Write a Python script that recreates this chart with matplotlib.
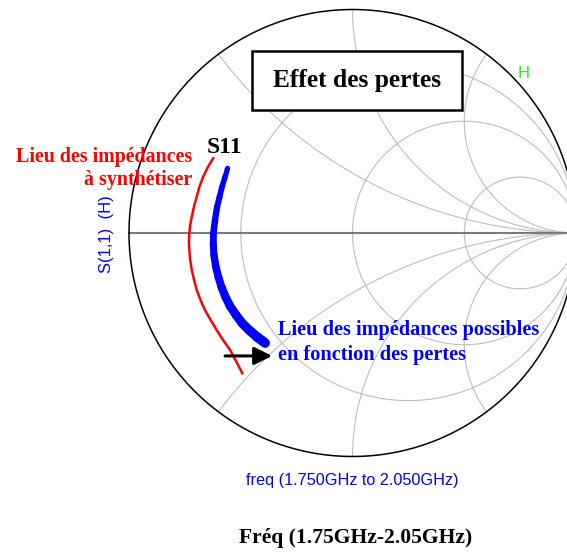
import numpy as np
import matplotlib
matplotlib.use("Agg")
import matplotlib.pyplot as plt
from matplotlib.patches import Rectangle
from matplotlib.collections import LineCollection

W, H = 567, 554
DPI = 100

# chart placement (pixels): centre of the Smith chart and its radius
CX, CY, R = 352.5, 233.0, 223.5

# Smith chart grid values
r_circles = [1/3, 1.0, 3.0]
x_arcs = [0.5, 1.0, 2.0, -0.5, -1.0, -2.0]

# target impedance locus (reflection coefficient, real / imag)
target_re = [-0.623, -0.647, -0.668, -0.685, -0.697, -0.709, -0.719, -0.726,
             -0.730, -0.732, -0.730, -0.726, -0.719, -0.709, -0.697, -0.680,
             -0.660, -0.635, -0.608, -0.579, -0.548, -0.521, -0.493]
target_im = [0.334, 0.295, 0.252, 0.206, 0.162, 0.119, 0.073, 0.036,
             -0.001, -0.040, -0.076, -0.121, -0.166, -0.210, -0.255, -0.300,
             -0.345, -0.389, -0.434, -0.479, -0.523, -0.573, -0.628]

# S(1,1) simulated over 1.75-2.05 GHz for the lossy case
s11_re = [-0.559, -0.570, -0.584, -0.595, -0.606, -0.615, -0.622, -0.623,
          -0.620, -0.612, -0.600, -0.586, -0.570, -0.548, -0.521, -0.494,
          -0.463, -0.427, -0.391]
s11_im = [0.289, 0.251, 0.206, 0.161, 0.116, 0.058, 0.000, -0.049,
          -0.098, -0.148, -0.197, -0.242, -0.282, -0.327, -0.367, -0.403,
          -0.434, -0.465, -0.492]

# arrow from the target locus toward the achievable locus
arrow_start = (-0.570, -0.550)
arrow_end = (-0.360, -0.550)

SERIF = "Liberation Serif"
SANS = "Liberation Sans"


def px(x, y):
    return x / W, 1 - y / H


def gamma(z):
    return (z - 1) / (z + 1)


fig = plt.figure(figsize=(W / DPI, H / DPI), dpi=DPI)
ax = fig.add_axes([0, 0, 1, 1])
ax.set_xlim((0 - CX) / R, (W - CX) / R)
ax.set_ylim((CY - H) / R, CY / R)
ax.axis("off")

grid_col = "#bdbdbd"

# constant resistance circles
xs = np.tan(np.linspace(-np.pi / 2 + 1e-4, np.pi / 2 - 1e-4, 800))
for r in r_circles:
    g = gamma(r + 1j * xs)
    ax.plot(g.real, g.imag, color=grid_col, lw=0.8, zorder=1)

# constant reactance arcs
rs = np.tan(np.linspace(0, np.pi / 2 - 1e-4, 800))
for x in x_arcs:
    g = gamma(rs + 1j * x)
    ax.plot(g.real, g.imag, color=grid_col, lw=0.8, zorder=1)

# real axis
ax.plot([-1, 1], [0, 0], color="#7a7a7a", lw=1.5, zorder=1)

# outer boundary |gamma| = 1
t = np.linspace(0, 2 * np.pi, 1000)
ax.plot(np.cos(t), np.sin(t), color="black", lw=1.1, zorder=2)

# target locus
ax.plot(target_re, target_im, color="red", lw=1.8, zorder=3)

# S11 band: the spread with losses widens toward the high end of the sweep
pts = np.column_stack([s11_re, s11_im])
segs = np.stack([pts[:-1], pts[1:]], axis=1)
widths = np.linspace(3.8, 7.0, len(segs))
band = LineCollection(segs, colors="#0000ff", linewidths=widths,
                      capstyle="round", joinstyle="round", zorder=3)
ax.add_collection(band)

ax.annotate("", xy=arrow_end, xytext=arrow_start,
            arrowprops=dict(arrowstyle="-|>", lw=2.2, color="black",
                            mutation_scale=27, shrinkA=0, shrinkB=0),
            zorder=4)

# title box
x0, y0 = px(251.7, 110)
x1, y1 = px(462.3, 51)
fig.patches.append(Rectangle((x0, y0), x1 - x0, y1 - y0, transform=fig.transFigure,
                             facecolor="white", edgecolor="black", lw=1.8, zorder=5))
fig.text(*px(357, 81), "Effet des pertes", family=SERIF, weight="bold",
         fontsize=18.4, ha="center", va="center", zorder=6)

fig.text(*px(207, 153), "S11", family=SERIF, weight="bold", fontsize=17,
         ha="left", va="baseline")

fig.text(*px(192, 162), "Lieu des impédances", family=SERIF, weight="bold",
         fontsize=14.4, color="red", ha="right", va="baseline")
fig.text(*px(192, 185), "à synthétiser", family=SERIF, weight="bold",
         fontsize=14.4, color="red", ha="right", va="baseline")

fig.text(*px(278, 335), "Lieu des impédances possibles", family=SERIF, weight="bold",
         fontsize=14.6, color="#0000ff", ha="left", va="baseline")
fig.text(*px(278, 360), "en fonction des pertes", family=SERIF, weight="bold",
         fontsize=14.6, color="#0000ff", ha="left", va="baseline")

fig.text(*px(106, 234), "S(1,1)  (H)", family=SANS, fontsize=12, color="#0000ff",
         rotation=90, ha="center", va="center")
fig.text(*px(524, 74), "H", family=SANS, fontsize=12, color="#22ee22",
         ha="center", va="center")

fig.text(*px(352, 481), "freq (1.750GHz to 2.050GHz)", family=SANS, fontsize=11.7,
         color="#0000ff", ha="center", va="center")
fig.text(*px(356, 538), "Fréq (1.75GHz-2.05GHz)", family=SERIF, weight="bold",
         fontsize=15.6, ha="center", va="center")

fig.savefig("out.png", dpi=DPI)
